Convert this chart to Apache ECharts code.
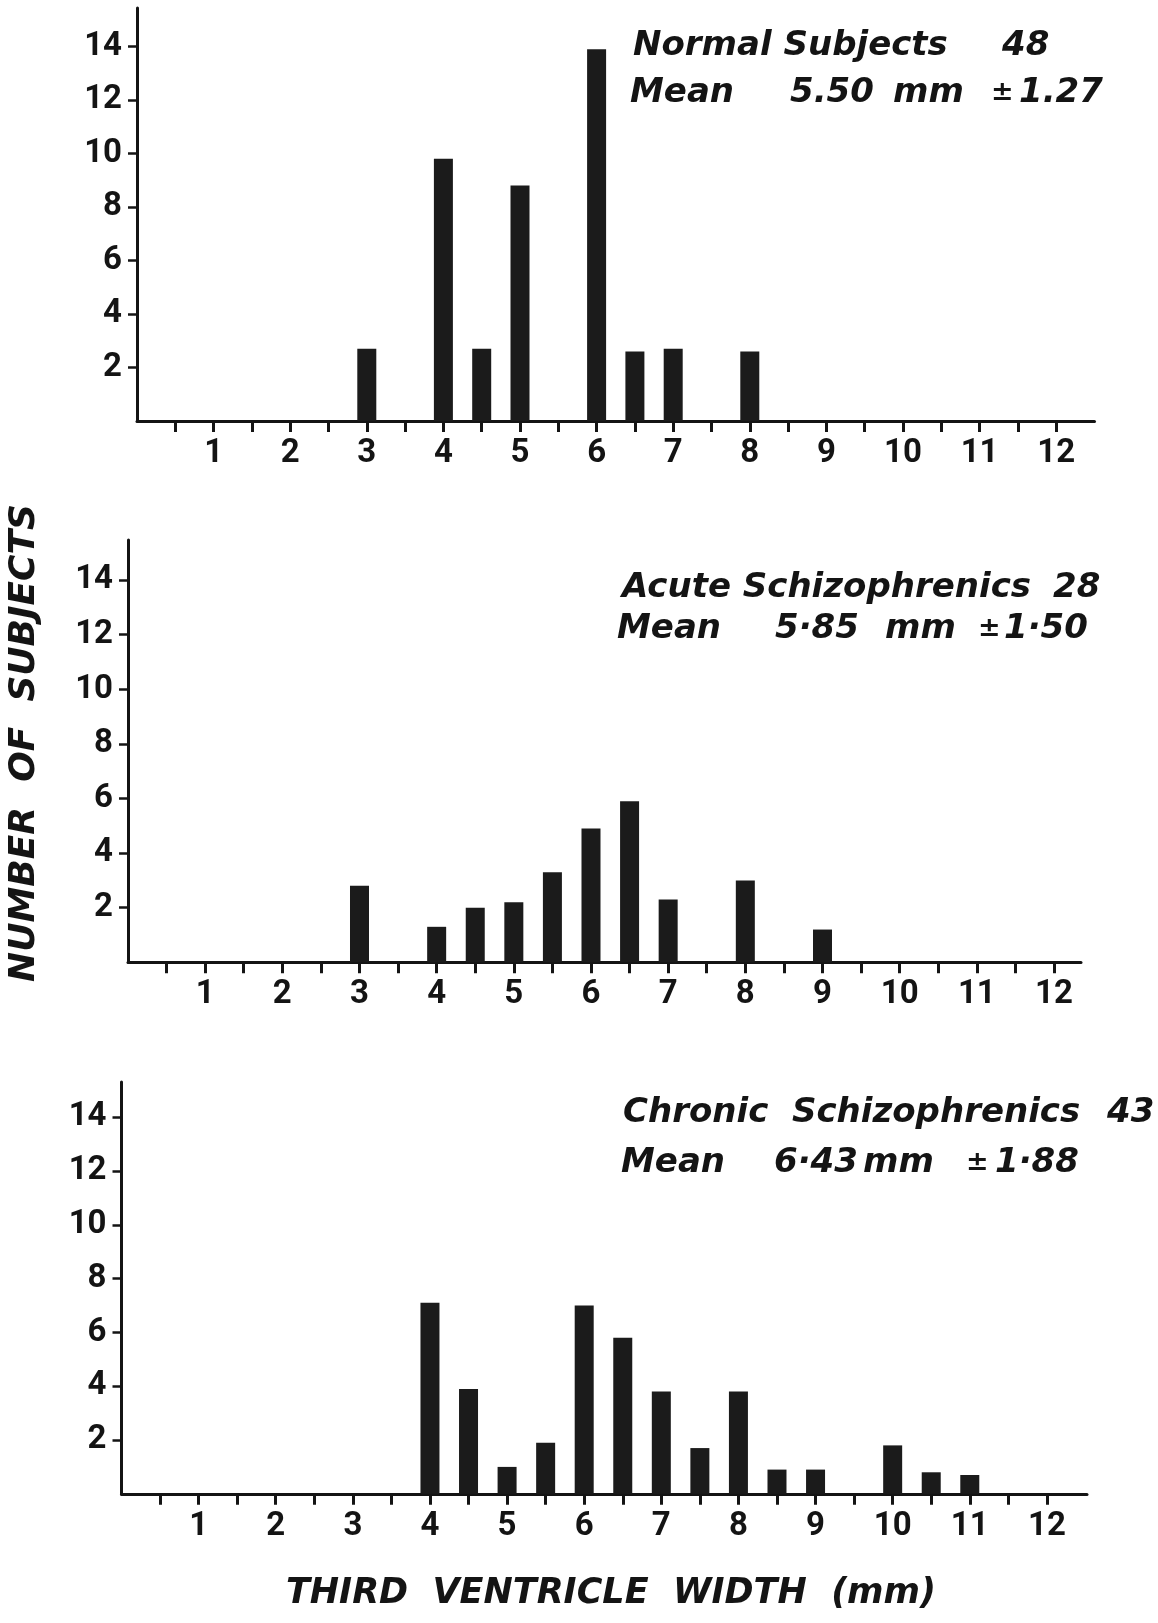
<!DOCTYPE html>
<html>
<head>
<meta charset="utf-8">
<script src="https://cdn.jsdelivr.net/npm/echarts@6/dist/echarts.min.js"></script>
<style>
html,body{margin:0;padding:0;background:#fff;}
#chart{width:1158px;height:1623px;}
</style>
</head>
<body>
<div id="chart"></div>
<script>
// ---- data (third ventricle width in mm -> number of subjects) ----
const normalWidths   = [3, 4, 4.5, 5, 6, 6.5, 7, 8];
const normalCounts   = [2.7, 9.8, 2.7, 8.8, 13.9, 2.6, 2.7, 2.6];

const acuteWidths    = [3, 4, 4.5, 5, 5.5, 6, 6.5, 7, 8, 9];
const acuteCounts    = [2.8, 1.3, 2.0, 2.2, 3.3, 4.9, 5.9, 2.3, 3.0, 1.2];

const chronicWidths  = [4, 4.5, 5, 5.5, 6, 6.5, 7, 7.5, 8, 8.5, 9, 10, 10.5, 11];
const chronicCounts  = [7.1, 3.9, 1.0, 1.9, 7.0, 5.8, 3.8, 1.7, 3.8, 0.9, 0.9, 1.8, 0.8, 0.7];

const xTickValues  = [0.5,1,1.5,2,2.5,3,3.5,4,4.5,5,5.5,6,6.5,7,7.5,8,8.5,9,9.5,10,10.5,11,11.5,12];
const xLabelValues = [1,2,3,4,5,6,7,8,9,10,11,12];
const yLabelValues = [2,4,6,8,10,12,14];

const panelTitles = [
  {name:'Normal Subjects', n:'48', mean:'5.50', mm:'mm', sd:'1.27'},
  {name:'Acute Schizophrenics', n:'28', mean:'5\u00b785', mm:'mm', sd:'1\u00b750'},
  {name:'Chronic  Schizophrenics', n:'43', mean:'6\u00b743', mm:'mm', sd:'1\u00b788'}
];

// ---- layout ----
const INK = '#141414';
const grids = [
  {left:137,   top:8,    width:957.5, height:413,   xMax:12.5,  yMax:15.44},
  {left:128,   top:540,  width:953,   height:422.3, xMax:12.35, yMax:15.47},
  {left:121.5, top:1082, width:965.5, height:411.8, xMax:12.52, yMax:15.31}
];
const seriesData = [
  [normalWidths, normalCounts],
  [acuteWidths, acuteCounts],
  [chronicWidths, chronicCounts]
];

const tickFont = 'Roboto';
const textFont = '"DejaVu Sans"';

const option = {
  backgroundColor:'#ffffff',
  animation:false,
  grid: grids.map(g => ({left:g.left, top:g.top, width:g.width, height:g.height,
                         containLabel:false, outerBoundsMode:'none'})),
  xAxis: grids.map((g,i) => ({
    type:'value', gridIndex:i, min:0, max:g.xMax, interval:0.5,
    axisLine:{show:true, onZero:true, lineStyle:{color:INK, width:3}},
    axisTick:{show:true, inside:false, length:11, lineStyle:{color:INK, width:3}, customValues:xTickValues},
    axisLabel:{show:true, margin:16, color:INK, fontFamily:tickFont, fontWeight:'bold', fontSize:33,
               customValues:xLabelValues,
               formatter: v => (Number.isInteger(v) && v>0 && v<=12) ? String(v) : ''},
    splitLine:{show:false}
  })),
  yAxis: grids.map((g,i) => ({
    type:'value', gridIndex:i, min:0, max:g.yMax, interval:2,
    axisLine:{show:true, lineStyle:{color:INK, width:3}},
    axisTick:{show:true, inside:false, length:9, lineStyle:{color:INK, width:2.5}, customValues:yLabelValues},
    axisLabel:{show:true, margin:15, color:INK, fontFamily:tickFont, fontWeight:'bold', fontSize:33,
               customValues:yLabelValues,
               formatter: v => (v>0 && v<=14 && v%2===0) ? String(v) : ''},
    splitLine:{show:false}
  })),
  series: seriesData.map((d,i) => ({
    type:'bar', xAxisIndex:i, yAxisIndex:i, barWidth:19,
    itemStyle:{color:'#1b1b1b'},
    data: d[0].map((x,j) => [x, d[1][j]])
  })),
  graphic: []
};

function txt(str, x, y, size, opts) {
  opts = opts || {};
  return {
    type:'text', x:x, y:y, rotation: opts.rotation || 0,
    style:{
      text:str, fill:INK,
      font:'italic bold ' + size + 'px ' + textFont,
      textAlign: opts.align || 'left', align: opts.align || 'left',
      textVerticalAlign:'middle', verticalAlign:'middle'
    }
  };
}

// panel annotations
const ann = [
  {l1y:46,   l2y:93,   name:633, n:1002, mean:630, val:790, mm:893, pm:991, sd:1019, size:34},
  {l1y:588,  l2y:629,  name:622, n:1053, mean:617, val:775, mm:885, pm:978, sd:1004, size:34},
  {l1y:1113, l2y:1163, name:623, n:1107, mean:621, val:774, mm:863, pm:966, sd:995,  size:34}
];
ann.forEach((a,i) => {
  const t = panelTitles[i];
  option.graphic.push(txt(t.name, a.name, a.l1y, a.size));
  option.graphic.push(txt(t.n, a.n, a.l1y, a.size));
  option.graphic.push(txt('Mean', a.mean, a.l2y, a.size));
  option.graphic.push(txt(t.mean, a.val, a.l2y, a.size));
  option.graphic.push(txt(t.mm, a.mm, a.l2y, a.size));
  option.graphic.push(txt('\u00b1', a.pm, a.l2y, 27));
  option.graphic.push(txt(t.sd, a.sd, a.l2y, a.size));
});

// shared axis titles
option.graphic.push(txt('NUMBER  OF  SUBJECTS', 25, 743, 36, {align:'center', rotation:Math.PI/2}));
option.graphic.push(txt('THIRD  VENTRICLE  WIDTH  (mm)', 611, 1594, 35, {align:'center'}));

const chart = echarts.init(document.getElementById('chart'), null, {renderer:'canvas', width:1158, height:1623});
chart.setOption(option);
</script>
</body>
</html>
